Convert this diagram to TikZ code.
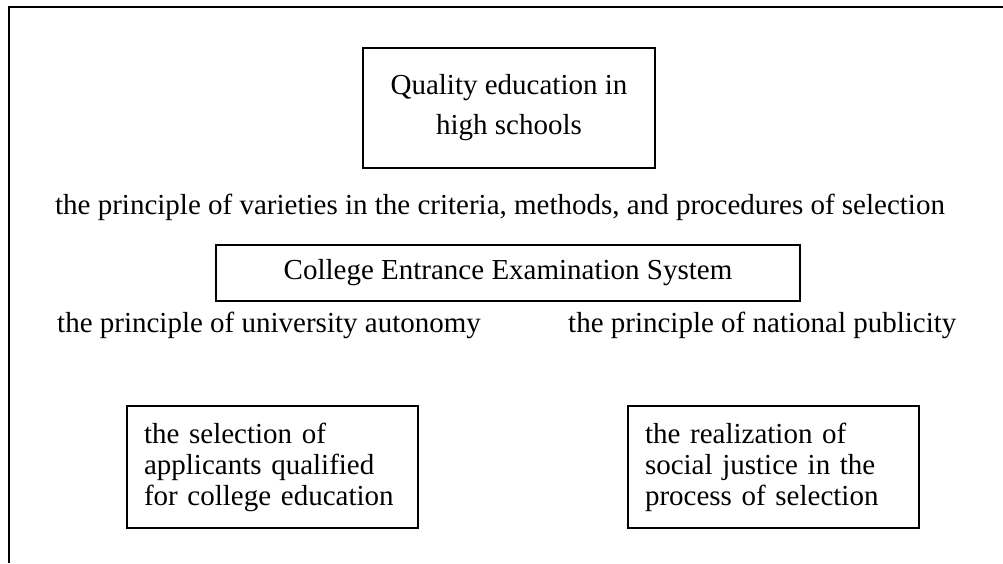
\documentclass[tikz,border=0pt]{standalone}
\usepackage{fontspec}
\setmainfont{Liberation Serif}
\begin{document}
\begin{tikzpicture}[x=10pt, y=10pt,
    every node/.style={font=\fontsize{29}{34}\selectfont},
    txt/.style={inner sep=0pt, anchor=base},
    box/.style={draw, line width=1.2pt, align=center},
    leafbox/.style={draw, line width=1.2pt, align=left, text width=257pt,
      inner xsep=17pt, minimum height=122pt, font=\fontsize{29}{31}\selectfont}]
      \useasboundingbox (0, 0) rectangle (100.3, 56.3);
      \coordinate (fbot) at (0.9, 0);
      \coordinate (fcorner) at (0.9, 55.6);
      \coordinate (fright) at (100.3, 55.6);
      \draw[line width=1.8pt] (fbot) -- (fcorner) -- (fright);

      \node[box, minimum width=292pt, minimum height=120pt, font=\fontsize{29}{40}\selectfont] (quality) at (50.9, 45.5){Quality education in\\high schools};

      \node[txt] (varieties) at (50.0, 34.8){the principle of varieties in the criteria, methods, and procedures of selection};

      \node[box, minimum width=584pt, minimum height=56pt] (cees) at (50.8, 29.0){College Entrance Examination System};

      \node[txt, anchor=base west] (autonomy) at (5.7, 23.1){the principle of university autonomy};
      \node[txt, anchor=base west] (publicity) at (56.8, 23.1){the principle of national publicity};

      \node[leafbox] (applicants) at (27.25, 9.6){the selection of\\applicants qualified\\for college education};
      \node[leafbox] (justice) at (77.35, 9.6){the realization of\\social justice in the\\process of selection};
    \end{tikzpicture}
\end{document}
